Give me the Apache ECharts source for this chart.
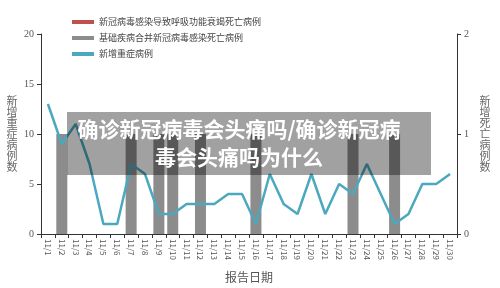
<!DOCTYPE html>
<html>
<head>
<meta charset="utf-8">
<script src="https://cdn.jsdelivr.net/npm/echarts@6/dist/echarts.min.js"></script>
<style>
  html, body { margin: 0; padding: 0; background: #fff; }
  #chart { width: 500px; height: 288px; }
</style>
</head>
<body>
<div id="chart"></div>
<script>
// report dates
const dates = [
  '11/1', '11/2', '11/3', '11/4', '11/5', '11/6', '11/7', '11/8', '11/9', '11/10',
  '11/11', '11/12', '11/13', '11/14', '11/15', '11/16', '11/17', '11/18', '11/19', '11/20',
  '11/21', '11/22', '11/23', '11/24', '11/25', '11/26', '11/27', '11/28', '11/29', '11/30'
]
// 新增重症病例 (left axis)
const severeCases = [13, 9, 11, 7, 1, 1, 7, 6, 2, 2, 3, 3, 3, 4, 4, 1, 6, 3, 2, 6, 2, 5, 4, 7, 4, 1, 2, 5, 5, 6]
// 基础疾病合并新冠病毒感染死亡病例 (right axis)
const comorbidDeaths = [0, 1, 0, 0, 0, 0, 1, 0, 1, 1, 0, 1, 0, 0, 0, 1, 0, 0, 0, 0, 0, 0, 1, 0, 0, 1, 0, 0, 0, 0]
// 新冠病毒感染导致呼吸功能衰竭死亡病例 (right axis)
const respDeaths = [0, 0, 0, 0, 0, 0, 0, 0, 0, 0, 0, 0, 0, 0, 0, 0, 0, 0, 0, 0, 0, 0, 0, 0, 0, 0, 0, 0, 0, 0]

const leftTicks = { min: 0, max: 20, interval: 5 }
const rightTicks = { min: 0, max: 2, interval: 1 }

const titleLines = ['确诊新冠病毒会头痛吗/确诊新冠病', '毒会头痛吗为什么']

const chart = echarts.init(document.getElementById('chart'))

const axisLine = { show: true, lineStyle: { color: '#333', width: 1 } }
const serif = '"Liberation Serif", "DejaVu Serif", serif'
const cjk = '"Noto Sans CJK SC", sans-serif'

chart.setOption({
  animation: false,
  backgroundColor: '#fff',
  grid: { left: 41, right: 43, top: 34, bottom: 50 },
  legend: {
    orient: 'vertical',
    left: 67,
    top: 12,
    itemWidth: 22,
    itemHeight: 4,
    itemGap: 6,
    textStyle: { fontFamily: cjk, fontSize: 9, lineHeight: 10, color: '#444' },
    data: [
      { name: '新冠病毒感染导致呼吸功能衰竭死亡病例', icon: 'rect' },
      { name: '基础疾病合并新冠病毒感染死亡病例', icon: 'rect' },
      { name: '新增重症病例', icon: 'rect' }
    ]
  },
  xAxis: {
    type: 'category',
    data: dates,
    axisLine: axisLine,
    axisTick: { show: true, length: 4, lineStyle: { color: '#333' } },
    axisLabel: { rotate: -90, fontSize: 8, margin: 5, color: '#555', fontFamily: cjk, interval: 0 },
    name: '报告日期',
    nameLocation: 'middle',
    nameGap: 37,
    nameTextStyle: { fontFamily: cjk, fontSize: 12, color: '#555' }
  },
  yAxis: [
    {
      type: 'value',
      min: leftTicks.min,
      max: leftTicks.max,
      interval: leftTicks.interval,
      axisLine: axisLine,
      axisTick: { show: true, length: 4, lineStyle: { color: '#333' } },
      splitLine: { show: false },
      axisLabel: { fontFamily: serif, fontSize: 10, color: '#555', margin: 7 },
      name: '新\n增\n重\n症\n病\n例\n数',
      nameLocation: 'middle',
      nameRotate: 0,
      nameGap: 29,
      nameTextStyle: { fontFamily: cjk, fontSize: 11, color: '#666', lineHeight: 11, align: 'center', verticalAlign: 'middle' }
    },
    {
      type: 'value',
      min: rightTicks.min,
      max: rightTicks.max,
      interval: rightTicks.interval,
      axisLine: axisLine,
      axisTick: { show: true, length: 4, lineStyle: { color: '#333' } },
      splitLine: { show: false },
      axisLabel: { fontFamily: serif, fontSize: 10, color: '#555', margin: 7 },
      name: '新\n增\n死\n亡\n病\n例\n数',
      nameLocation: 'middle',
      nameRotate: 0,
      nameGap: 28,
      nameTextStyle: { fontFamily: cjk, fontSize: 11, color: '#666', lineHeight: 11, align: 'center', verticalAlign: 'middle' }
    }
  ],
  series: [
    {
      name: '新冠病毒感染导致呼吸功能衰竭死亡病例',
      type: 'bar',
      yAxisIndex: 1,
      data: respDeaths,
      barWidth: 11,
      barGap: '-100%',
      itemStyle: { color: '#c0504d' }
    },
    {
      name: '基础疾病合并新冠病毒感染死亡病例',
      type: 'bar',
      yAxisIndex: 1,
      data: comorbidDeaths,
      barWidth: 11,
      barGap: '-100%',
      itemStyle: { color: '#8c8c8c' }
    },
    {
      name: '新增重症病例',
      type: 'line',
      yAxisIndex: 0,
      data: severeCases,
      symbol: 'none',
      lineStyle: { color: '#4ba8be', width: 2.5 },
      itemStyle: { color: '#4ba8be' }
    }
  ],
  graphic: [
    {
      type: 'rect',
      z: 100,
      shape: { x: 67, y: 112, width: 364, height: 63 },
      style: { fill: 'rgba(0,0,0,0.37)' }
    },
    {
      type: 'text',
      z: 101,
      x: 239,
      y: 143,
      style: {
        text: titleLines.join('\n'),
        fill: '#fff',
        font: 'bold 21px "Noto Sans CJK SC", sans-serif',
        lineHeight: 28,
        align: 'center',
        verticalAlign: 'middle'
      }
    }
  ]
})
</script>
</body>
</html>
